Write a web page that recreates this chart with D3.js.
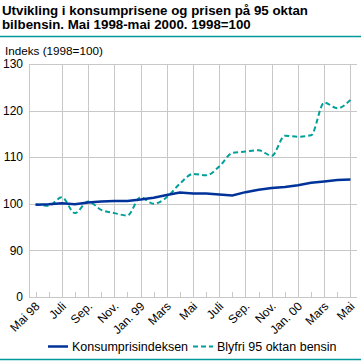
<!DOCTYPE html>
<html>
<head>
<meta charset="utf-8">
<script src="https://cdn.jsdelivr.net/npm/d3@7"></script>
<style>
  body { margin: 0; background: #fff; }
  text { font-family: "Liberation Sans", Arial, sans-serif; }
</style>
</head>
<body>
<div class="chart"></div>
<script>
// months May 1998 - May 2000
var months = ["Mai 98", "Juni", "Juli", "Aug.", "Sep.", "Okt.", "Nov.", "Des.",
  "Jan. 99", "Feb.", "Mars", "April", "Mai", "Juni", "Juli", "Aug.", "Sep.", "Okt.",
  "Nov.", "Des.", "Jan. 00", "Feb.", "Mars", "April", "Mai"];

var kpi = [99.8, 99.9, 100.1, 99.9, 100.3, 100.5, 100.6, 100.6, 100.9, 101.3, 101.9, 102.4,
  102.2, 102.2, 102.0, 101.8, 102.5, 103.0, 103.4, 103.6, 104.0, 104.5, 104.8, 105.1, 105.2];

var bensin = [99.9, 99.6, 101.4, 98.0, 100.5, 98.7, 98.0, 97.5, 101.4, 100.0, 101.4, 104.3,
  106.4, 106.1, 108.0, 110.9, 111.2, 111.5, 110.3, 114.6, 114.4, 114.7, 121.7, 120.5, 122.3];

// y axis is broken: bottom tick reads 0
var yTicks = [80, 90, 100, 110, 120, 130];
var yLabels = ["0", "90", "100", "110", "120", "130"];

var W = 361, H = 361;
var pLeft = 29, pRight = 357, pTop = 64, pBottom = 297;

var svg = d3.select(".chart").append("svg")
  .attr("width", W)
  .attr("height", H);

// title
svg.append("text").attr("x", 2).attr("y", 14.5)
  .attr("font-size", 13.3).attr("font-weight", "bold").attr("fill", "#000")
  .text("Utvikling i konsumprisene og prisen på 95 oktan");
svg.append("text").attr("x", 2).attr("y", 28.5)
  .attr("font-size", 13.3).attr("font-weight", "bold").attr("fill", "#000")
  .text("bilbensin. Mai 1998-mai 2000. 1998=100");

svg.append("line").attr("x1", 0).attr("x2", W).attr("y1", 36.5).attr("y2", 36.5)
  .attr("stroke", "#00999a").attr("stroke-width", 1.5);
svg.append("line").attr("x1", 0).attr("x2", W).attr("y1", 359.5).attr("y2", 359.5)
  .attr("stroke", "#00999a").attr("stroke-width", 1.5);

svg.append("text").attr("x", 5).attr("y", 55)
  .attr("font-size", 11.7).text("Indeks (1998=100)");

var x = d3.scaleBand().domain(d3.range(months.length)).range([pLeft, pRight]);
var xc = function(i) { return x(i) + x.bandwidth() / 2; };
var y = d3.scaleLinear().domain([80, 130]).range([pBottom, pTop]);

// horizontal grid
svg.append("g").selectAll("line").data(yTicks.slice(1))
  .enter().append("line")
  .attr("x1", pLeft).attr("x2", pRight)
  .attr("y1", function(d) { return Math.round(y(d)) + 0.5; })
  .attr("y2", function(d) { return Math.round(y(d)) + 0.5; })
  .attr("stroke", "#c8c8c8");

// vertical grid every second month
var gridIdx = d3.range(2, months.length, 2);
svg.append("g").selectAll("line").data(gridIdx)
  .enter().append("line")
  .attr("x1", function(d) { return Math.round(xc(d)) + 0.5; })
  .attr("x2", function(d) { return Math.round(xc(d)) + 0.5; })
  .attr("y1", pTop).attr("y2", pBottom)
  .attr("stroke", "#c8c8c8");

// small ticks on the other months
svg.append("g").selectAll("line").data(d3.range(0, months.length).filter(function(i) { return i % 2 == 1 || i == 0; }))
  .enter().append("line")
  .attr("x1", function(d) { return Math.round(xc(d)) + 0.5; })
  .attr("x2", function(d) { return Math.round(xc(d)) + 0.5; })
  .attr("y1", pBottom - 5).attr("y2", pBottom)
  .attr("stroke", "#c8c8c8");

// axes lines
svg.append("line").attr("x1", pLeft + 0.5).attr("x2", pLeft + 0.5).attr("y1", pTop).attr("y2", pBottom)
  .attr("stroke", "#c8c8c8");
svg.append("line").attr("x1", pLeft).attr("x2", pRight).attr("y1", pBottom + 0.5).attr("y2", pBottom + 0.5)
  .attr("stroke", "#c8c8c8");

// y labels
svg.append("g").selectAll("text").data(yTicks)
  .enter().append("text")
  .attr("x", 23)
  .attr("y", function(d) { return y(d); })
  .attr("dy", "0.35em")
  .attr("text-anchor", "end")
  .attr("font-size", 12)
  .text(function(d, i) { return yLabels[i]; });

// x labels
svg.append("g").selectAll("text").data(d3.range(0, months.length, 2))
  .enter().append("text")
  .attr("text-anchor", "end")
  .attr("font-size", 12)
  .attr("transform", function(d) { return "translate(" + (xc(d) + 5) + "," + 307 + ") rotate(-45)"; })
  .text(function(d) { return months[d]; });

var line = d3.line()
  .x(function(d, i) { return xc(i); })
  .y(function(d) { return y(d); });

svg.append("path").datum(bensin)
  .attr("d", line.curve(d3.curveMonotoneX))
  .attr("fill", "none")
  .attr("stroke", "#00a09a")
  .attr("stroke-width", 2)
  .attr("stroke-dasharray", "5,3");

svg.append("path").datum(kpi)
  .attr("d", line.curve(d3.curveLinear))
  .attr("fill", "none")
  .attr("stroke", "#003399")
  .attr("stroke-width", 2.5);

// legend
var legend = svg.append("g");
legend.append("line").attr("x1", 48).attr("x2", 68).attr("y1", 346.5).attr("y2", 346.5)
  .attr("stroke", "#003399").attr("stroke-width", 2.5);
legend.append("text").attr("x", 72).attr("y", 351).attr("font-size", 12.5)
  .text("Konsumprisindeksen");
legend.append("line").attr("x1", 193).attr("x2", 213).attr("y1", 346.5).attr("y2", 346.5)
  .attr("stroke", "#00a09a").attr("stroke-width", 2).attr("stroke-dasharray", "5,3");
legend.append("text").attr("x", 217).attr("y", 351).attr("font-size", 12.5)
  .text("Blyfri 95 oktan bensin");
</script>
</body>
</html>
